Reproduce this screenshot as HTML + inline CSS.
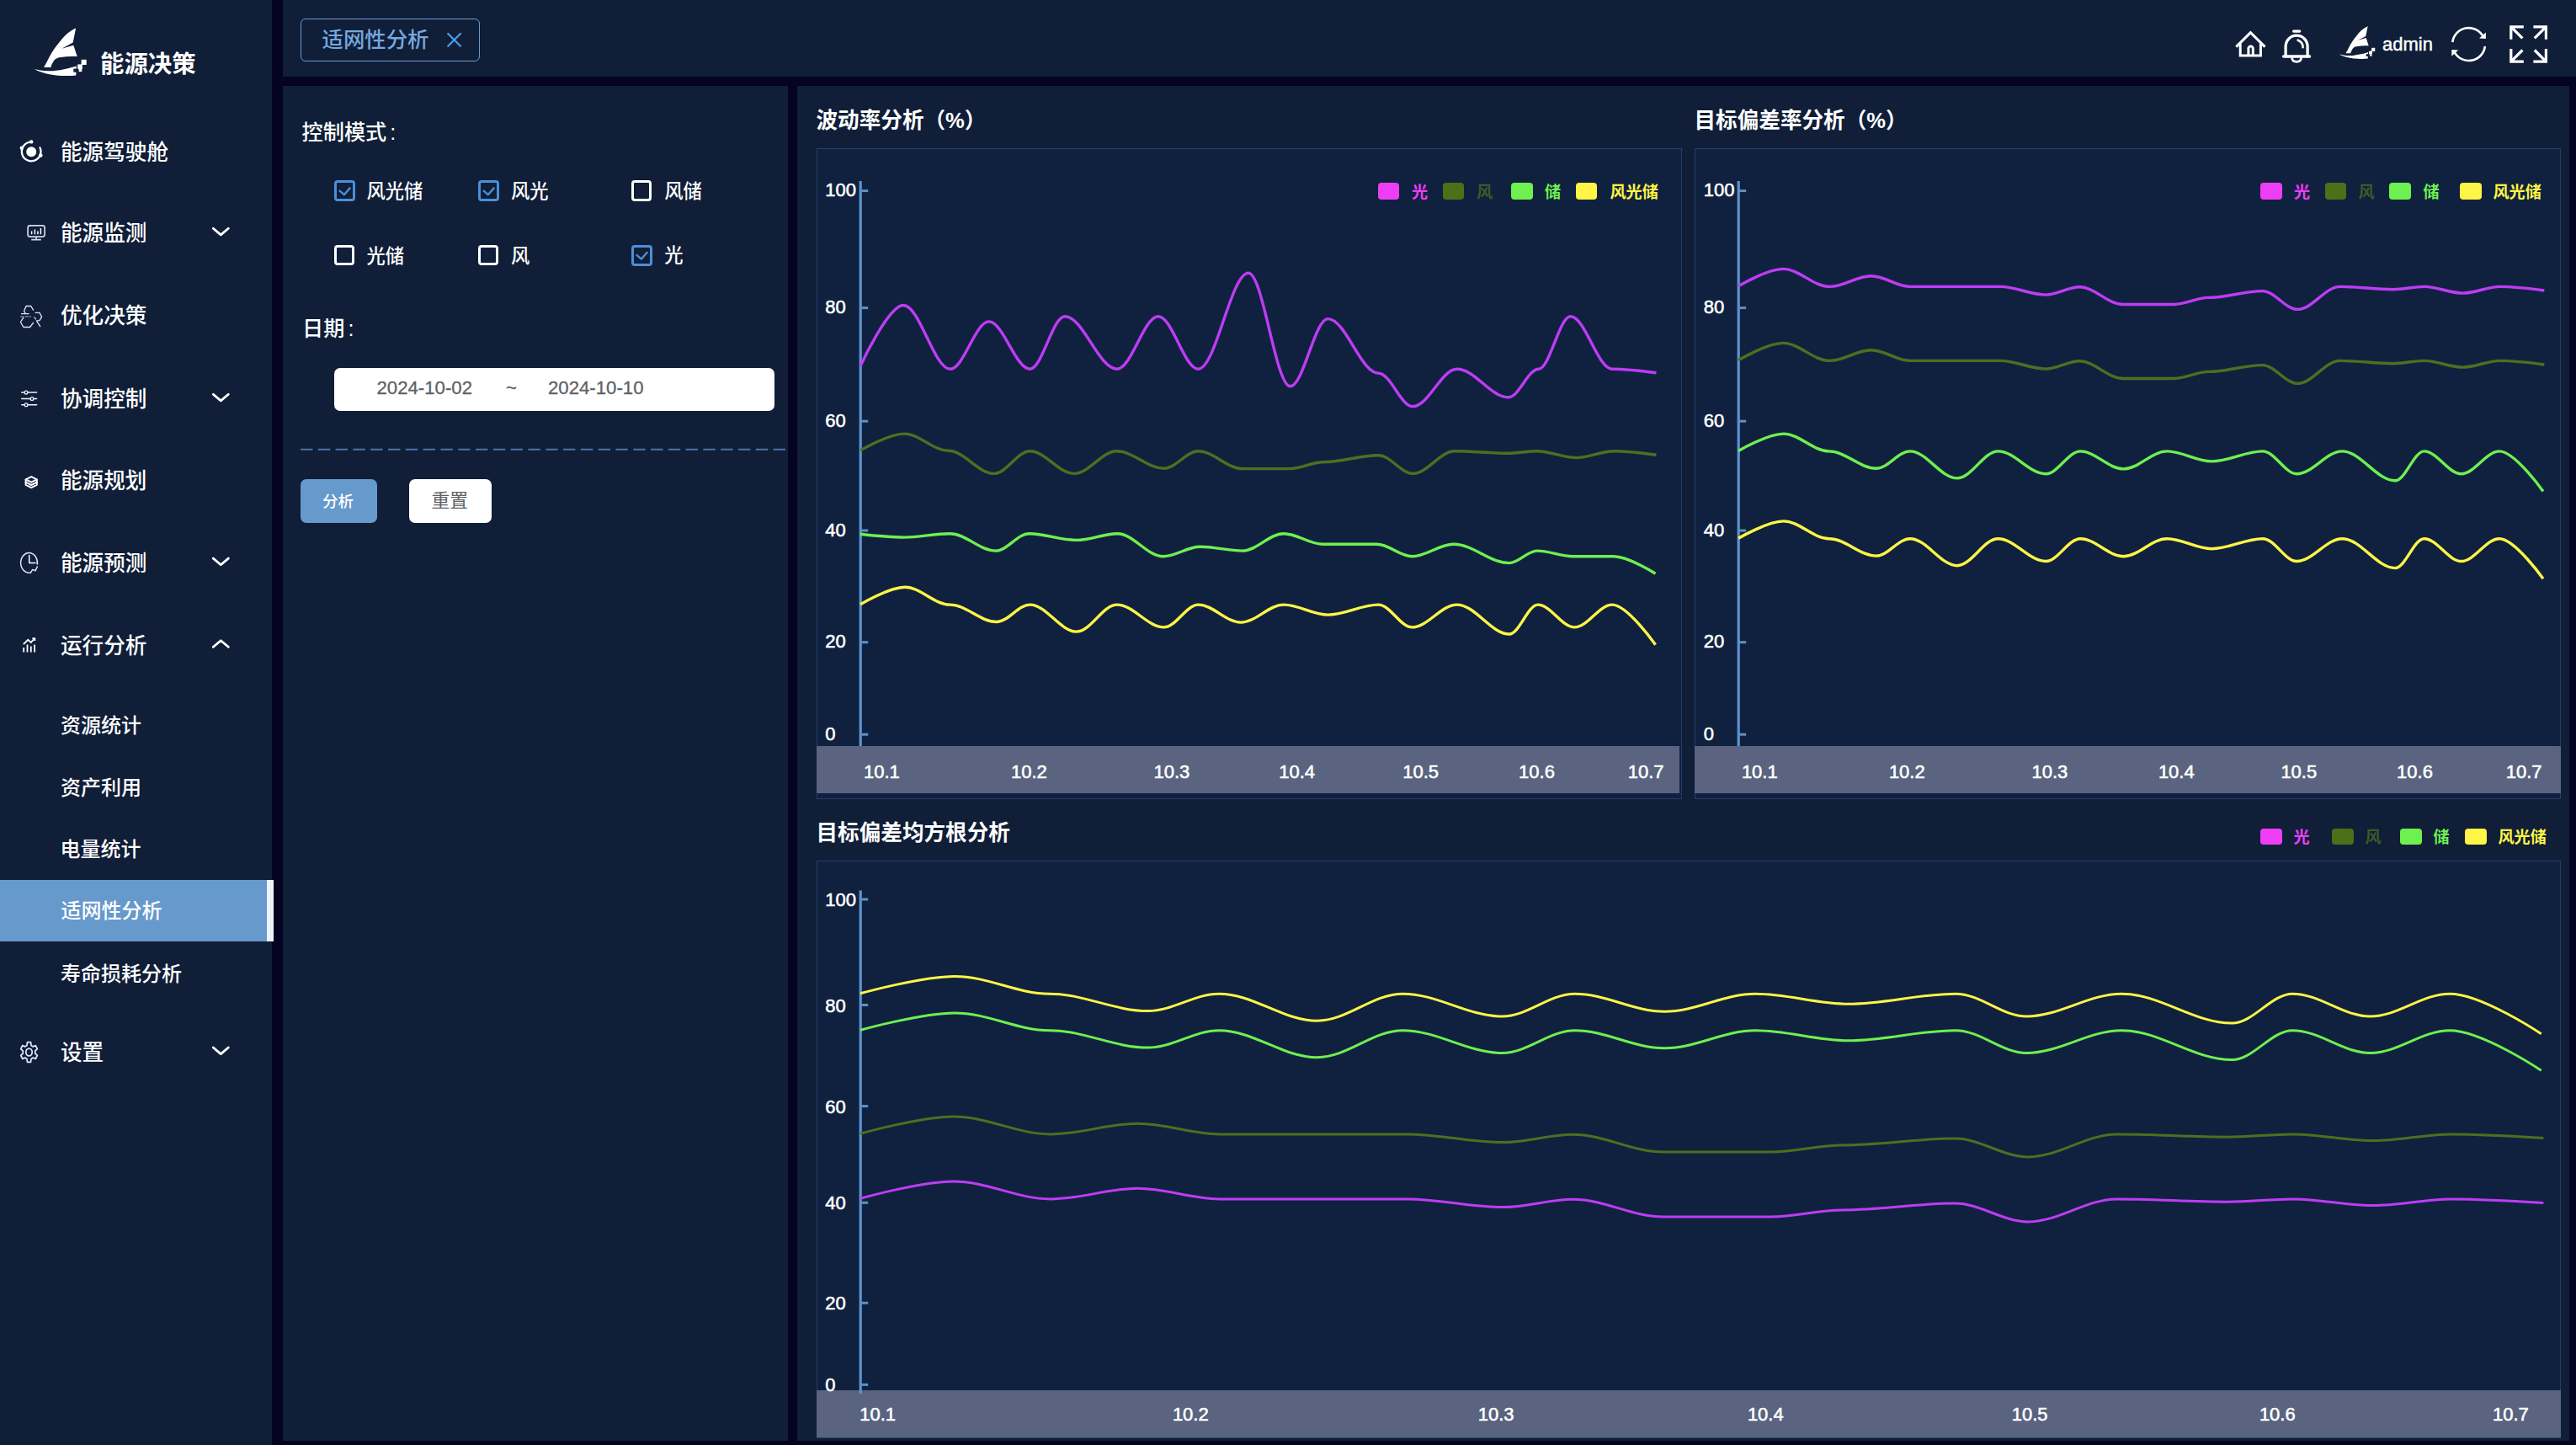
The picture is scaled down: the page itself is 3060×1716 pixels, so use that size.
<!DOCTYPE html>
<html lang="zh-CN"><head><meta charset="utf-8"><title>能源决策</title><style>
*{box-sizing:border-box;margin:0;padding:0}
html,body{width:3060px;height:1716px;overflow:hidden;background:#040422;}
body{position:relative;font-family:"Liberation Sans","Noto Sans CJK SC",sans-serif;color:#fff;}
.abs{position:absolute}
.g{position:absolute;left:0;top:0;width:0;height:0}
.panel{position:absolute;background:#101e38}
.t{position:absolute;white-space:nowrap;line-height:1;transform:translateY(-50%)}
.menu{font-size:25.6px;font-weight:500;left:72px}
.sub{font-size:24px;font-weight:500;left:72px}
.cb{position:absolute;width:25px;height:25px;border:3px solid #fff;border-radius:4px}
.cb.on{border-color:#4a90d9}
.cbl{font-size:22.3px;font-weight:500}
.chart{position:absolute;background:#10213f;border:1.3px solid #263e69}
.band{position:absolute;background:#5a6480}
.ttl{font-size:25.6px;font-weight:700}
.lg{position:absolute;width:25.5px;height:19.5px;border-radius:4px}
.lt{font-size:19.1px;font-weight:700}
svg{position:absolute;left:0;top:0;overflow:visible}
svg text{font-family:"Liberation Sans","Noto Sans CJK SC",sans-serif;stroke:#fff;stroke-width:.55px}
</style></head><body>
<aside class="g">
<div class="panel" style="left:0;top:0;width:323px;height:1716px"></div>
<div class="t" style="left:119px;top:75.5px;font-size:28.4px;font-weight:700">能源决策</div>
<div class="t menu" style="top:181.5px">能源驾驶舱</div>
<div class="t menu" style="top:278px">能源监测</div>
<div class="t menu" style="top:376.3px">优化决策</div>
<div class="t menu" style="top:475px">协调控制</div>
<div class="t menu" style="top:571.8px">能源规划</div>
<div class="t menu" style="top:669.8px">能源预测</div>
<div class="t menu" style="top:767.7px">运行分析</div>
<div class="t menu" style="top:1250.7px">设置</div>
<div class="abs" style="left:0;top:1045px;width:324.5px;height:73px;background:#6699cc;border-right:8px solid #eef2fa"></div>
<div class="t sub" style="top:861.6px;left:72px">资源统计</div>
<div class="t sub" style="top:935.5px;left:72px">资产利用</div>
<div class="t sub" style="top:1008.6px;left:71.6px">电量统计</div>
<div class="t sub" style="top:1082.4px;left:72.6px">适网性分析</div>
<div class="t sub" style="top:1157.4px;left:72px">寿命损耗分析</div>
</aside>
<header class="g">
<div class="panel" style="left:336px;top:0;width:2724px;height:91px"></div>
<div class="abs" style="left:357px;top:22px;width:212.6px;height:50.5px;border:1.5px solid #6a9bd4;border-radius:6px"></div>
<div class="t" style="left:382.5px;top:48.2px;font-size:25.4px;font-weight:500;color:#74a8de">适网性分析</div>
<div class="t" style="left:2830px;top:52.5px;font-size:22px;-webkit-text-stroke:.4px #fff">admin</div>
</header>
<section class="g">
<div class="panel" style="left:336px;top:101.7px;width:600.3px;height:1609.8px"></div>
<div class="t" style="left:358.5px;top:157.5px;font-size:25.2px;font-weight:500">控制模式<span style="margin-left:4px">:</span></div>
<div class="cb on" style="left:397px;top:214.1px;width:25px;height:25.4px"></div>
<div class="t cbl" style="left:435.5px;top:227.9px">风光储</div>
<div class="cb on" style="left:568px;top:214.1px;width:25px;height:25.4px"></div>
<div class="t cbl" style="left:607.0px;top:227.9px">风光</div>
<div class="cb" style="left:750px;top:214.4px;width:24px;height:24.3px"></div>
<div class="t cbl" style="left:789.2px;top:228.20000000000002px">风储</div>
<div class="cb" style="left:397px;top:290.8px;width:24px;height:24.3px"></div>
<div class="t cbl" style="left:435.5px;top:304.6px">光储</div>
<div class="cb" style="left:568px;top:290.8px;width:24px;height:24.3px"></div>
<div class="t cbl" style="left:607.0px;top:304.6px">风</div>
<div class="cb on" style="left:750px;top:290.5px;width:25px;height:25.4px"></div>
<div class="t cbl" style="left:789.2px;top:304.3px">光</div>
<div class="t" style="left:359px;top:391px;font-size:25.2px;font-weight:500">日期<span style="margin-left:4px">:</span></div>
<div class="abs" style="left:397px;top:436.8px;width:522.5px;height:51px;background:#fff;border-radius:7px"></div>
<div class="t" style="left:447.5px;top:461px;font-size:22.2px;color:#606266;-webkit-text-stroke:.3px #606266">2024-10-02</div>
<div class="t" style="left:601px;top:461px;font-size:22.2px;color:#606266;-webkit-text-stroke:.3px #606266">~</div>
<div class="t" style="left:651px;top:461px;font-size:22.2px;color:#606266;-webkit-text-stroke:.3px #606266">2024-10-10</div>
<div class="abs" style="left:357px;top:569.4px;width:91px;height:51.2px;background:#6699cc;border-radius:7px"></div>
<div class="t" style="left:383px;top:595.5px;font-size:18.6px;font-weight:500;color:#fff">分析</div>
<div class="abs" style="left:486.3px;top:569.4px;width:97.7px;height:51.2px;background:#fff;border-radius:7px"></div>
<div class="t" style="left:512.5px;top:595px;font-size:21.8px;color:#606266">重置</div>
</section>
<main class="g">
<div class="panel" style="left:947.4px;top:101.7px;width:2104.2px;height:1609.8px"></div>
<div class="t ttl" style="left:969.5px;top:143.5px">波动率分析（%）</div>
<div class="t ttl" style="left:2012.5px;top:143.5px">目标偏差率分析（%）</div>
<div class="t ttl" style="left:969.5px;top:990px">目标偏差均方根分析</div>
<div class="chart" style="left:970px;top:176px;width:1028px;height:773.2px"></div>
<div class="chart" style="left:2013px;top:176px;width:1029px;height:773.2px"></div>
<div class="chart" style="left:970px;top:1022px;width:2072px;height:685.6px"></div>
<div class="band" style="left:970px;top:886px;width:1025.3px;height:56px"></div>
<div class="band" style="left:2013px;top:886px;width:1028.5px;height:56px"></div>
<div class="band" style="left:970px;top:1651px;width:2071.5px;height:55.6px"></div>
<div class="lg" style="left:1636.9px;top:217.35px;background:#ee3ef5"></div>
<div class="t lt" style="left:1677px;top:229.1px;color:#ee3ef5">光</div>
<div class="lg" style="left:1713.9px;top:217.35px;background:#4b7018"></div>
<div class="t lt" style="left:1754px;top:229.1px;color:#3e5a26">风</div>
<div class="lg" style="left:1795px;top:217.35px;background:#6ef050"></div>
<div class="t lt" style="left:1835px;top:229.1px;color:#6ef050">储</div>
<div class="lg" style="left:1871.8px;top:217.35px;background:#fff546"></div>
<div class="t lt" style="left:1912.5px;top:229.1px;color:#fff546">风光储</div>
<div class="lg" style="left:2685px;top:217.35px;background:#ee3ef5"></div>
<div class="t lt" style="left:2725px;top:229.1px;color:#ee3ef5">光</div>
<div class="lg" style="left:2761.8px;top:217.35px;background:#4b7018"></div>
<div class="t lt" style="left:2801.5px;top:229.1px;color:#3e5a26">风</div>
<div class="lg" style="left:2838.2px;top:217.35px;background:#6ef050"></div>
<div class="t lt" style="left:2878.5px;top:229.1px;color:#6ef050">储</div>
<div class="lg" style="left:2922px;top:217.35px;background:#fff546"></div>
<div class="t lt" style="left:2961.5px;top:229.1px;color:#fff546">风光储</div>
<div class="lg" style="left:2685px;top:983.55px;background:#ee3ef5"></div>
<div class="t lt" style="left:2724.5px;top:995.3px;color:#ee3ef5">光</div>
<div class="lg" style="left:2770px;top:983.55px;background:#4b7018"></div>
<div class="t lt" style="left:2809.5px;top:995.3px;color:#3e5a26">风</div>
<div class="lg" style="left:2851px;top:983.55px;background:#6ef050"></div>
<div class="t lt" style="left:2890.5px;top:995.3px;color:#6ef050">储</div>
<div class="lg" style="left:2928px;top:983.55px;background:#fff546"></div>
<div class="t lt" style="left:2967.5px;top:995.3px;color:#fff546">风光储</div>
</main>
<svg width="3060" height="1716" viewBox="0 0 3060 1716">
<rect x="1020.6" y="215" width="3.2" height="671" fill="#5c94cf"/>
<rect x="1022.2" y="225.1" width="9" height="3" fill="#5f90c4"/>
<rect x="1022.2" y="364.1" width="9" height="3" fill="#5f90c4"/>
<rect x="1022.2" y="498.7" width="9" height="3" fill="#5f90c4"/>
<rect x="1022.2" y="628.5" width="9" height="3" fill="#5f90c4"/>
<rect x="1022.2" y="761.2" width="9" height="3" fill="#5f90c4"/>
<rect x="1022.2" y="870.7" width="9" height="3" fill="#5f90c4"/>
<text x="980.2" y="233.2" font-size="22" fill="#fff">100</text>
<text x="980.2" y="372.20000000000005" font-size="22" fill="#fff">80</text>
<text x="980.2" y="506.8" font-size="22" fill="#fff">60</text>
<text x="980.2" y="636.6" font-size="22" fill="#fff">40</text>
<text x="980.2" y="769.3000000000001" font-size="22" fill="#fff">20</text>
<text x="980.2" y="878.8000000000001" font-size="22" fill="#fff">0</text>
<rect x="2063.6" y="215" width="3.2" height="671" fill="#5c94cf"/>
<rect x="2065.2" y="225.1" width="9" height="3" fill="#5f90c4"/>
<rect x="2065.2" y="364.1" width="9" height="3" fill="#5f90c4"/>
<rect x="2065.2" y="498.7" width="9" height="3" fill="#5f90c4"/>
<rect x="2065.2" y="628.5" width="9" height="3" fill="#5f90c4"/>
<rect x="2065.2" y="761.2" width="9" height="3" fill="#5f90c4"/>
<rect x="2065.2" y="870.7" width="9" height="3" fill="#5f90c4"/>
<text x="2023.7" y="233.2" font-size="22" fill="#fff">100</text>
<text x="2023.7" y="372.20000000000005" font-size="22" fill="#fff">80</text>
<text x="2023.7" y="506.8" font-size="22" fill="#fff">60</text>
<text x="2023.7" y="636.6" font-size="22" fill="#fff">40</text>
<text x="2023.7" y="769.3000000000001" font-size="22" fill="#fff">20</text>
<text x="2023.7" y="878.8000000000001" font-size="22" fill="#fff">0</text>
<rect x="1020.6" y="1057.4" width="3.2" height="597.5999999999999" fill="#5c94cf"/>
<rect x="1022.2" y="1066.5" width="9" height="3" fill="#5f90c4"/>
<rect x="1022.2" y="1192.0" width="9" height="3" fill="#5f90c4"/>
<rect x="1022.2" y="1312.1" width="9" height="3" fill="#5f90c4"/>
<rect x="1022.2" y="1426.8" width="9" height="3" fill="#5f90c4"/>
<rect x="1022.2" y="1545.8" width="9" height="3" fill="#5f90c4"/>
<rect x="1022.2" y="1642.9" width="9" height="3" fill="#5f90c4"/>
<text x="980.2" y="1076.0" font-size="22" fill="#fff">100</text>
<text x="980.2" y="1201.5" font-size="22" fill="#fff">80</text>
<text x="980.2" y="1321.6" font-size="22" fill="#fff">60</text>
<text x="980.2" y="1436.3" font-size="22" fill="#fff">40</text>
<text x="980.2" y="1555.3" font-size="22" fill="#fff">20</text>
<text x="980.2" y="1652.4" font-size="22" fill="#fff">0</text>
<text x="1047.4" y="924.1999999999999" font-size="22" fill="#fff" text-anchor="middle">10.1</text>
<text x="1222.4" y="924.1999999999999" font-size="22" fill="#fff" text-anchor="middle">10.2</text>
<text x="1391.9" y="924.1999999999999" font-size="22" fill="#fff" text-anchor="middle">10.3</text>
<text x="1540.7" y="924.1999999999999" font-size="22" fill="#fff" text-anchor="middle">10.4</text>
<text x="1687.6" y="924.1999999999999" font-size="22" fill="#fff" text-anchor="middle">10.5</text>
<text x="1825.5" y="924.1999999999999" font-size="22" fill="#fff" text-anchor="middle">10.6</text>
<text x="1955.1" y="924.1999999999999" font-size="22" fill="#fff" text-anchor="middle">10.7</text>
<text x="2090.3" y="924.1999999999999" font-size="22" fill="#fff" text-anchor="middle">10.1</text>
<text x="2265.3" y="924.1999999999999" font-size="22" fill="#fff" text-anchor="middle">10.2</text>
<text x="2434.9" y="924.1999999999999" font-size="22" fill="#fff" text-anchor="middle">10.3</text>
<text x="2585.3" y="924.1999999999999" font-size="22" fill="#fff" text-anchor="middle">10.4</text>
<text x="2730.8" y="924.1999999999999" font-size="22" fill="#fff" text-anchor="middle">10.5</text>
<text x="2868.5" y="924.1999999999999" font-size="22" fill="#fff" text-anchor="middle">10.6</text>
<text x="2998.1" y="924.1999999999999" font-size="22" fill="#fff" text-anchor="middle">10.7</text>
<text x="1042.7" y="1687.0" font-size="22" fill="#fff" text-anchor="middle">10.1</text>
<text x="1414.3" y="1687.0" font-size="22" fill="#fff" text-anchor="middle">10.2</text>
<text x="1777.2" y="1687.0" font-size="22" fill="#fff" text-anchor="middle">10.3</text>
<text x="2097.3" y="1687.0" font-size="22" fill="#fff" text-anchor="middle">10.4</text>
<text x="2411.2" y="1687.0" font-size="22" fill="#fff" text-anchor="middle">10.5</text>
<text x="2705.3" y="1687.0" font-size="22" fill="#fff" text-anchor="middle">10.6</text>
<text x="2982.4" y="1687.0" font-size="22" fill="#fff" text-anchor="middle">10.7</text>
<path d="M1022.0,534.9C1022.0,534.9 1055.8,515.1 1074.0,515.1C1092.4,515.1 1108.1,535.2 1126.5,535.2C1145.5,535.2 1161.8,562.4 1180.8,562.4C1195.7,562.4 1208.6,535.8 1223.5,535.8C1241.8,535.8 1257.6,562.4 1275.9,562.4C1293.6,562.4 1308.7,535.8 1326.4,535.8C1346.1,535.8 1363.0,556.2 1382.7,556.2C1396.9,556.2 1409.2,535.8 1423.4,535.8C1441.7,535.8 1457.5,556.6 1475.8,556.6C1495.7,556.6 1512.8,556.6 1532.7,556.6C1546.3,556.6 1557.9,548.8 1571.5,548.8C1594.6,548.8 1614.4,540.7 1637.5,540.7C1651.8,540.7 1664.0,562.4 1678.3,562.4C1695.6,562.4 1710.5,535.8 1727.8,535.8C1749.9,535.8 1768.8,538.3 1790.9,538.3C1803.1,538.3 1813.6,535.8 1825.8,535.8C1842.1,535.8 1856.1,543.6 1872.4,543.6C1888.0,543.6 1901.4,535.8 1917.0,535.8C1934.7,535.8 1967.5,540.3 1967.5,540.3" fill="none" stroke="#4c7020" stroke-width="3.4" stroke-linecap="butt" stroke-linejoin="round"/>
<path d="M1022.0,634.3C1022.0,634.3 1055.8,638.1 1074.0,638.1C1093.0,638.1 1109.4,633.7 1128.4,633.7C1147.4,633.7 1163.7,654.1 1182.7,654.1C1196.6,654.1 1208.6,633.7 1222.5,633.7C1242.2,633.7 1259.1,641.4 1278.8,641.4C1295.8,641.4 1310.4,633.7 1327.4,633.7C1346.4,633.7 1362.7,660.8 1381.7,660.8C1397.0,660.8 1410.1,649.2 1425.4,649.2C1443.0,649.2 1458.2,654.1 1475.8,654.1C1493.0,654.1 1507.7,633.7 1524.9,633.7C1541.2,633.7 1555.2,646.3 1571.5,646.3C1593.9,646.3 1613.2,646.3 1635.6,646.3C1650.2,646.3 1662.7,660.8 1677.3,660.8C1694.6,660.8 1709.5,646.3 1726.8,646.3C1749.9,646.3 1769.7,668.6 1792.8,668.6C1804.3,668.6 1814.2,654.1 1825.8,654.1C1840.7,654.1 1853.6,660.8 1868.5,660.8C1885.5,660.8 1900.0,660.8 1917.0,660.8C1934.3,660.8 1966.5,681.2 1966.5,681.2" fill="none" stroke="#6ef050" stroke-width="3.4" stroke-linecap="butt" stroke-linejoin="round"/>
<path d="M1022.0,717.7C1022.0,717.7 1056.5,697.3 1075.0,697.3C1093.7,697.3 1109.7,718.1 1128.4,718.1C1147.8,718.1 1164.3,738.5 1183.7,738.5C1197.6,738.5 1209.6,718.1 1223.5,718.1C1242.9,718.1 1259.4,750.1 1278.8,750.1C1295.6,750.1 1310.0,718.1 1326.8,718.1C1346.4,718.1 1363.1,744.9 1382.7,744.9C1396.9,744.9 1409.2,718.1 1423.4,718.1C1441.1,718.1 1456.2,739.1 1473.9,739.1C1491.8,739.1 1507.1,718.1 1524.9,718.1C1543.2,718.1 1559.0,730.1 1577.3,730.1C1598.4,730.1 1616.4,718.1 1637.5,718.1C1651.4,718.1 1663.4,744.9 1677.3,744.9C1696.0,744.9 1712.0,718.1 1730.7,718.1C1752.4,718.1 1771.1,753.0 1792.8,753.0C1804.7,753.0 1814.9,718.1 1826.8,718.1C1842.1,718.1 1855.1,744.9 1870.4,744.9C1886.0,744.9 1899.5,718.1 1915.1,718.1C1933.1,718.1 1966.5,765.7 1966.5,765.7" fill="none" stroke="#fff546" stroke-width="3.4" stroke-linecap="butt" stroke-linejoin="round"/>
<path d="M1022.0,434.9C1022.0,434.9 1055.2,362.5 1073.1,362.5C1092.6,362.5 1109.3,438.2 1128.8,438.2C1144.8,438.2 1158.6,381.9 1174.6,381.9C1191.7,381.9 1206.4,438.2 1223.5,438.2C1238.0,438.2 1250.4,375.7 1264.9,375.7C1286.6,375.7 1305.1,438.2 1326.8,438.2C1344.0,438.2 1358.7,375.7 1375.9,375.7C1392.5,375.7 1406.8,438.2 1423.4,438.2C1444.3,438.2 1462.1,324.3 1483.0,324.3C1500.4,324.3 1515.3,458.8 1532.7,458.8C1548.3,458.8 1561.7,378.6 1577.3,378.6C1598.4,378.6 1616.4,443.2 1637.5,443.2C1651.8,443.2 1664.0,482.8 1678.3,482.8C1696.6,482.8 1712.4,438.2 1730.7,438.2C1752.1,438.2 1770.4,471.8 1791.8,471.8C1804.4,471.8 1815.1,438.2 1827.7,438.2C1841.0,438.2 1852.3,375.7 1865.6,375.7C1882.9,375.7 1897.8,438.2 1915.1,438.2C1933.4,438.2 1967.5,442.7 1967.5,442.7" fill="none" stroke="#be3cf5" stroke-width="3.4" stroke-linecap="butt" stroke-linejoin="round"/>
<path d="M2065.0,339.8C2065.0,339.8 2099.4,319.4 2117.9,319.4C2137.3,319.4 2153.9,340.4 2173.3,340.4C2190.6,340.4 2205.4,327.8 2222.7,327.8C2239.0,327.8 2253.0,340.4 2269.3,340.4C2288.3,340.4 2304.7,340.4 2323.7,340.4C2342.0,340.4 2357.8,340.4 2376.1,340.4C2395.1,340.4 2411.4,350.1 2430.4,350.1C2444.3,350.1 2456.3,340.8 2470.2,340.8C2488.2,340.8 2503.7,361.5 2521.7,361.5C2543.0,361.5 2561.3,361.5 2582.7,361.5C2597.0,361.5 2609.2,353.4 2623.5,353.4C2645.9,353.4 2665.1,345.6 2687.5,345.6C2702.1,345.6 2714.6,367.4 2729.2,367.4C2746.9,367.4 2762.0,340.4 2779.7,340.4C2801.8,340.4 2820.7,343.7 2842.8,343.7C2855.7,343.7 2866.8,340.4 2879.7,340.4C2895.7,340.4 2909.3,348.1 2925.3,348.1C2940.9,348.1 2954.3,340.4 2969.9,340.4C2988.2,340.4 3022.3,345.0 3022.3,345.0" fill="none" stroke="#be3cf5" stroke-width="3.4" stroke-linecap="butt" stroke-linejoin="round"/>
<path d="M2065.0,427.8C2065.0,427.8 2099.4,407.4 2117.9,407.4C2137.3,407.4 2153.9,428.4 2173.3,428.4C2190.6,428.4 2205.4,415.8 2222.7,415.8C2239.0,415.8 2253.0,428.4 2269.3,428.4C2288.3,428.4 2304.7,428.4 2323.7,428.4C2342.0,428.4 2357.8,428.4 2376.1,428.4C2395.1,428.4 2411.4,438.1 2430.4,438.1C2444.3,438.1 2456.3,428.8 2470.2,428.8C2488.2,428.8 2503.7,449.5 2521.7,449.5C2543.0,449.5 2561.3,449.5 2582.7,449.5C2597.0,449.5 2609.2,441.4 2623.5,441.4C2645.9,441.4 2665.1,433.6 2687.5,433.6C2702.1,433.6 2714.6,455.4 2729.2,455.4C2746.9,455.4 2762.0,428.4 2779.7,428.4C2801.8,428.4 2820.7,431.7 2842.8,431.7C2855.7,431.7 2866.8,428.4 2879.7,428.4C2895.7,428.4 2909.3,436.1 2925.3,436.1C2940.9,436.1 2954.3,428.4 2969.9,428.4C2988.2,428.4 3022.3,433.0 3022.3,433.0" fill="none" stroke="#4c7020" stroke-width="3.4" stroke-linecap="butt" stroke-linejoin="round"/>
<path d="M2065.0,535.5C2065.0,535.5 2099.9,515.1 2118.6,515.1C2137.6,515.1 2153.8,535.9 2172.7,535.9C2192.3,535.9 2209.1,556.3 2228.7,556.3C2242.8,556.3 2254.9,535.9 2269.0,535.9C2288.5,535.9 2305.3,567.9 2324.9,567.9C2341.9,567.9 2356.5,535.9 2373.5,535.9C2393.3,535.9 2410.3,562.7 2430.1,562.7C2444.5,562.7 2456.9,535.9 2471.3,535.9C2489.2,535.9 2504.5,556.9 2522.4,556.9C2540.5,556.9 2555.9,535.9 2574.0,535.9C2592.6,535.9 2608.5,547.9 2627.1,547.9C2648.4,547.9 2666.7,535.9 2688.0,535.9C2702.1,535.9 2714.2,562.7 2728.3,562.7C2747.2,562.7 2763.4,535.9 2782.3,535.9C2804.3,535.9 2823.2,570.8 2845.2,570.8C2857.2,570.8 2867.5,535.9 2879.6,535.9C2895.0,535.9 2908.3,562.7 2923.7,562.7C2939.6,562.7 2953.1,535.9 2969.0,535.9C2987.2,535.9 3021.0,583.5 3021.0,583.5" fill="none" stroke="#6ef050" stroke-width="3.4" stroke-linecap="butt" stroke-linejoin="round"/>
<path d="M2065.0,639.3C2065.0,639.3 2099.9,618.9 2118.6,618.9C2137.6,618.9 2153.8,639.7 2172.7,639.7C2192.3,639.7 2209.1,660.1 2228.7,660.1C2242.8,660.1 2254.9,639.7 2269.0,639.7C2288.5,639.7 2305.3,671.7 2324.9,671.7C2341.9,671.7 2356.5,639.7 2373.5,639.7C2393.3,639.7 2410.3,666.5 2430.1,666.5C2444.5,666.5 2456.9,639.7 2471.3,639.7C2489.2,639.7 2504.5,660.7 2522.4,660.7C2540.5,660.7 2555.9,639.7 2574.0,639.7C2592.6,639.7 2608.5,651.7 2627.1,651.7C2648.4,651.7 2666.7,639.7 2688.0,639.7C2702.1,639.7 2714.2,666.5 2728.3,666.5C2747.2,666.5 2763.4,639.7 2782.3,639.7C2804.3,639.7 2823.2,674.6 2845.2,674.6C2857.2,674.6 2867.5,639.7 2879.6,639.7C2895.0,639.7 2908.3,666.5 2923.7,666.5C2939.6,666.5 2953.1,639.7 2969.0,639.7C2987.2,639.7 3021.0,687.3 3021.0,687.3" fill="none" stroke="#fff546" stroke-width="3.4" stroke-linecap="butt" stroke-linejoin="round"/>
<path d="M1022.0,1179.8C1022.0,1179.8 1094.8,1159.4 1134.0,1159.4C1173.6,1159.4 1207.4,1180.2 1246.9,1180.2C1287.8,1180.2 1322.9,1200.6 1363.8,1200.6C1393.3,1200.6 1418.5,1180.2 1448.0,1180.2C1488.9,1180.2 1524.0,1212.2 1564.9,1212.2C1600.4,1212.2 1630.8,1180.2 1666.3,1180.2C1707.7,1180.2 1743.2,1207.0 1784.5,1207.0C1814.6,1207.0 1840.4,1180.2 1870.6,1180.2C1907.9,1180.2 1940.0,1201.2 1977.3,1201.2C2015.1,1201.2 2047.4,1180.2 2085.1,1180.2C2123.9,1180.2 2157.1,1192.2 2195.9,1192.2C2240.4,1192.2 2278.6,1180.2 2323.2,1180.2C2352.6,1180.2 2377.9,1207.0 2407.3,1207.0C2446.8,1207.0 2480.7,1180.2 2520.2,1180.2C2566.1,1180.2 2605.5,1215.1 2651.5,1215.1C2676.6,1215.1 2698.2,1180.2 2723.3,1180.2C2755.6,1180.2 2783.3,1207.0 2815.5,1207.0C2848.6,1207.0 2876.9,1180.2 2910.0,1180.2C2948.0,1180.2 3018.7,1227.8 3018.7,1227.8" fill="none" stroke="#fff546" stroke-width="3.0" stroke-linecap="butt" stroke-linejoin="round"/>
<path d="M1022.0,1223.3C1022.0,1223.3 1094.8,1202.9 1134.0,1202.9C1173.6,1202.9 1207.4,1223.7 1246.9,1223.7C1287.8,1223.7 1322.9,1244.1 1363.8,1244.1C1393.3,1244.1 1418.5,1223.7 1448.0,1223.7C1488.9,1223.7 1524.0,1255.7 1564.9,1255.7C1600.4,1255.7 1630.8,1223.7 1666.3,1223.7C1707.7,1223.7 1743.2,1250.5 1784.5,1250.5C1814.6,1250.5 1840.4,1223.7 1870.6,1223.7C1907.9,1223.7 1940.0,1244.7 1977.3,1244.7C2015.1,1244.7 2047.4,1223.7 2085.1,1223.7C2123.9,1223.7 2157.1,1235.7 2195.9,1235.7C2240.4,1235.7 2278.6,1223.7 2323.2,1223.7C2352.6,1223.7 2377.9,1250.5 2407.3,1250.5C2446.8,1250.5 2480.7,1223.7 2520.2,1223.7C2566.1,1223.7 2605.5,1258.6 2651.5,1258.6C2676.6,1258.6 2698.2,1223.7 2723.3,1223.7C2755.6,1223.7 2783.3,1250.5 2815.5,1250.5C2848.6,1250.5 2876.9,1223.7 2910.0,1223.7C2948.0,1223.7 3018.7,1271.3 3018.7,1271.3" fill="none" stroke="#6ef050" stroke-width="3.0" stroke-linecap="butt" stroke-linejoin="round"/>
<path d="M1022.0,1346.3C1022.0,1346.3 1093.8,1325.9 1132.5,1325.9C1173.0,1325.9 1207.7,1346.9 1248.2,1346.9C1284.3,1346.9 1315.3,1334.3 1351.4,1334.3C1385.4,1334.3 1414.6,1346.9 1448.7,1346.9C1488.5,1346.9 1522.6,1346.9 1562.3,1346.9C1600.6,1346.9 1633.5,1346.9 1671.8,1346.9C1711.5,1346.9 1745.5,1356.6 1785.2,1356.6C1814.3,1356.6 1839.2,1347.3 1868.3,1347.3C1905.9,1347.3 1938.2,1368.0 1975.9,1368.0C2020.5,1368.0 2058.7,1368.0 2103.3,1368.0C2133.1,1368.0 2158.7,1359.9 2188.5,1359.9C2235.3,1359.9 2275.4,1352.1 2322.2,1352.1C2352.6,1352.1 2378.8,1373.9 2409.2,1373.9C2446.2,1373.9 2477.8,1346.9 2514.7,1346.9C2560.9,1346.9 2600.4,1350.2 2646.5,1350.2C2673.5,1350.2 2696.6,1346.9 2723.6,1346.9C2756.9,1346.9 2785.5,1354.6 2818.8,1354.6C2851.4,1354.6 2879.4,1346.9 2912.0,1346.9C2950.3,1346.9 3021.4,1351.5 3021.4,1351.5" fill="none" stroke="#4c7020" stroke-width="3.0" stroke-linecap="butt" stroke-linejoin="round"/>
<path d="M1022.0,1423.3C1022.0,1423.3 1093.8,1402.9 1132.5,1402.9C1173.0,1402.9 1207.7,1423.9 1248.2,1423.9C1284.3,1423.9 1315.3,1411.3 1351.4,1411.3C1385.4,1411.3 1414.6,1423.9 1448.7,1423.9C1488.5,1423.9 1522.6,1423.9 1562.3,1423.9C1600.6,1423.9 1633.5,1423.9 1671.8,1423.9C1711.5,1423.9 1745.5,1433.6 1785.2,1433.6C1814.3,1433.6 1839.2,1424.3 1868.3,1424.3C1905.9,1424.3 1938.2,1445.0 1975.9,1445.0C2020.5,1445.0 2058.7,1445.0 2103.3,1445.0C2133.1,1445.0 2158.7,1436.9 2188.5,1436.9C2235.3,1436.9 2275.4,1429.1 2322.2,1429.1C2352.6,1429.1 2378.8,1450.9 2409.2,1450.9C2446.2,1450.9 2477.8,1423.9 2514.7,1423.9C2560.9,1423.9 2600.4,1427.2 2646.5,1427.2C2673.5,1427.2 2696.6,1423.9 2723.6,1423.9C2756.9,1423.9 2785.5,1431.6 2818.8,1431.6C2851.4,1431.6 2879.4,1423.9 2912.0,1423.9C2950.3,1423.9 3021.4,1428.5 3021.4,1428.5" fill="none" stroke="#be3cf5" stroke-width="3.0" stroke-linecap="butt" stroke-linejoin="round"/>
<g transform="translate(0,0) scale(1.0)" fill="#fff"><path d="M90.1,33.6 C84,36 77,42 72.2,48 C68.5,52.5 66,55.8 63.8,59.1 C61,63.5 59,66.8 57.3,70.3 C55.2,74.5 53.5,77.5 52.1,80.1 L60.5,80.1 C60.8,78 61.4,76.5 62.4,75 C63.2,73.2 64.2,71.6 65.7,70.3 C67.5,69 69.5,68.4 72.2,68 C76.5,67.4 81,67.2 85.2,67.1 L91.7,66.9 L87.3,53.7 L73.3,57.7 L86.7,50.6 Z"/><path d="M40.7,82 C43,82.6 45.5,83 48,83.4 C51,83.9 54,84.2 57.3,84.3 C60.5,84.4 63.5,84.2 66.6,83.8 C69.8,83.4 72.8,82.9 75.9,82.2 C79,81.6 82,80.9 85.2,80.1 L90.8,78.5 L90.3,89.4 C87,89.9 84,90.1 80.6,90.1 C75.8,90.2 71,90 66.6,89.5 C63.3,89.1 60.3,88.6 57.3,88 C54,87.3 51,86.3 48,85.2 C45.2,84.2 42.8,83.2 40.7,82 Z"/><rect x="96.6" y="70.8" width="6.1" height="6.2"/><rect x="92.2" y="76.4" width="5.6" height="5.6"/><rect x="93.6" y="82" width="3.7" height="3.2"/><rect x="87.3" y="81.6" width="4.9" height="4.1" fill="#101e38"/></g>
<g transform="translate(2750.9,8.3) scale(0.685)" fill="#fff"><path d="M90.1,33.6 C84,36 77,42 72.2,48 C68.5,52.5 66,55.8 63.8,59.1 C61,63.5 59,66.8 57.3,70.3 C55.2,74.5 53.5,77.5 52.1,80.1 L60.5,80.1 C60.8,78 61.4,76.5 62.4,75 C63.2,73.2 64.2,71.6 65.7,70.3 C67.5,69 69.5,68.4 72.2,68 C76.5,67.4 81,67.2 85.2,67.1 L91.7,66.9 L87.3,53.7 L73.3,57.7 L86.7,50.6 Z"/><path d="M40.7,82 C43,82.6 45.5,83 48,83.4 C51,83.9 54,84.2 57.3,84.3 C60.5,84.4 63.5,84.2 66.6,83.8 C69.8,83.4 72.8,82.9 75.9,82.2 C79,81.6 82,80.9 85.2,80.1 L90.8,78.5 L90.3,89.4 C87,89.9 84,90.1 80.6,90.1 C75.8,90.2 71,90 66.6,89.5 C63.3,89.1 60.3,88.6 57.3,88 C54,87.3 51,86.3 48,85.2 C45.2,84.2 42.8,83.2 40.7,82 Z"/><rect x="96.6" y="70.8" width="6.1" height="6.2"/><rect x="92.2" y="76.4" width="5.6" height="5.6"/><rect x="93.6" y="82" width="3.7" height="3.2"/><rect x="87.3" y="81.6" width="4.9" height="4.1" fill="#101e38"/></g>
<polyline points="253.3,271.3 262.3,278.9 271.3,271.3" fill="none" stroke="#fff" stroke-width="2.8" stroke-linecap="round" stroke-linejoin="round"/>
<polyline points="253.3,468.3 262.3,475.9 271.3,468.3" fill="none" stroke="#fff" stroke-width="2.8" stroke-linecap="round" stroke-linejoin="round"/>
<polyline points="253.3,663.0999999999999 262.3,670.6999999999999 271.3,663.0999999999999" fill="none" stroke="#fff" stroke-width="2.8" stroke-linecap="round" stroke-linejoin="round"/>
<polyline points="253.3,768.3000000000001 262.3,760.7 271.3,768.3000000000001" fill="none" stroke="#fff" stroke-width="2.8" stroke-linecap="round" stroke-linejoin="round"/>
<polyline points="253.3,1244.0 262.3,1251.6000000000001 271.3,1244.0" fill="none" stroke="#fff" stroke-width="2.8" stroke-linecap="round" stroke-linejoin="round"/>
<path d="M47.5,175.4 A11.3,11.3 0 1 1 37.6,168.7" fill="none" stroke="#fff" stroke-width="2.3" stroke-linecap="round"/><circle cx="37.2" cy="180.3" r="6" fill="#fff"/><circle cx="37.2" cy="168.4" r="2.2" fill="#fff"/><circle cx="25.8" cy="175.8" r="2.2" fill="#fff"/><circle cx="48.3" cy="184.6" r="2.3" fill="#fff"/>
<rect x="33.1" y="267.8" width="20" height="13.4" rx="2.6" fill="none" stroke="#cfdaee" stroke-width="1.7"/><path d="M43,281.4 V284.5 M37.2,284.6 H48.8" fill="none" stroke="#cfdaee" stroke-width="1.7"/><path d="M37.6,274.4 V278.3 M41.4,272.5 V278.3 M44.9,274.4 V278.3 M48.4,270.9 V278.3" fill="none" stroke="#fff" stroke-width="1.5"/>
<g fill="none" stroke="#dfe7f7" stroke-width="1.3" stroke-linecap="round" stroke-linejoin="round"><path d="M39.5,368.1 L36.8,363.5 L31,363.5 L28.6,369.3 L30.2,372.4"/><path d="M25.5,372.6 H34.1"/><path d="M27.9,376.9 L24.4,382.5 L27.9,388.5 L35.6,388.5 L39.5,383.3"/><path d="M42.2,371.4 L46.9,371.4 L49.6,376.3 L46.9,380.7 L43.4,380.9 L47.7,387.7"/><path d="M24.6,375.9 H27.5 M30.2,375.9 H33.3 M35.2,375.9 H36.4" stroke-opacity="0.6"/><path d="M40.7,376.7 L42.6,379" stroke-opacity="0.8"/></g>
<g fill="none" stroke="#eef2fb" stroke-width="1.5" stroke-linecap="round"><path d="M25.7,466.1 H28.9 M33.1,466.1 H43.6"/><circle cx="31" cy="466.1" r="1.9" stroke-width="1.3"/><path d="M25.7,473.5 H35.9 M40.1,473.5 H43.6"/><circle cx="38" cy="473.5" r="1.9" stroke-width="1.3"/><path d="M25.7,480.7 H28.9 M33.1,480.7 H43.6"/><circle cx="31" cy="480.7" r="1.9" stroke-width="1.3"/></g>
<g fill="none" stroke="#fff" stroke-width="2" stroke-linejoin="round" stroke-linecap="round"><path d="M37.2,566.1 L43.8,569.4 L37.2,572.7 L30.6,569.4 Z"/><path d="M30.6,569.4 V575.8 L37.2,579.2 L43.8,575.8 V569.4"/><path d="M30.6,572.6 L37.2,576 L43.8,572.6"/></g>
<g fill="none" stroke="#dfe7f7" stroke-width="1.5" stroke-linecap="round" stroke-linejoin="round"><path d="M44.3,670.0 A9.9,11.9 0 1 0 35.2,680.2"/><path d="M36.2,680.4 L38.7,676.4 L41.9,677.8 L44.3,673"/><path d="M34.7,659.6 V668.5 H42" stroke="#fff"/></g>
<g fill="none" stroke="#fff" stroke-width="1.8" stroke-linecap="butt" stroke-linejoin="miter"><path d="M28.2,769 V774.6 M32.5,765.4 V774.6 M36.8,767.6 V774.6 M41.1,765.4 V774.6"/><path d="M27.8,765 L33.3,759.8 L36.8,762.9 L41,758.4"/><path d="M38.4,758.1 H41.3 V761"/></g>
<path d="M32.0,1241.4 L32.5,1237.7 L36.5,1237.7 L37.0,1241.4 L39.3,1242.9 L42.3,1241.6 L44.3,1245.6 L41.8,1248.0 L41.8,1251.0 L44.3,1253.4 L42.3,1257.4 L39.3,1256.1 L37.0,1257.6 L36.5,1261.3 L32.5,1261.3 L32.0,1257.6 L29.7,1256.1 L26.7,1257.4 L24.7,1253.4 L27.2,1251.0 L27.2,1248.0 L24.7,1245.6 L26.7,1241.6 L29.7,1242.9 Z" fill="none" stroke="#dbe4f6" stroke-width="1.8" stroke-linejoin="round"/><ellipse cx="34.5" cy="1249.5" rx="3.7" ry="4.4" fill="none" stroke="#dbe4f6" stroke-width="1.8"/>
<g fill="none" stroke="#fff" stroke-width="3" stroke-linejoin="miter" stroke-linecap="butt"><path d="M2656.3,55.6 L2673.4,38.6 L2690.5,55.6"/><path d="M2661.2,51.5 V65.9 H2685.4 V51.5"/><path d="M2670.9,65.9 V57.6 A2.7,2.7 0 0 1 2676.3,57.6 V65.9"  stroke-width="3"/></g>
<g fill="none" stroke="#fff" stroke-width="3.3" stroke-linecap="round" stroke-linejoin="round"><path d="M2724.6,37.1 H2731.7"/><path d="M2715.1,66.8 V55.2 A13,13 0 0 1 2741.1,55.2 V66.8"/><path d="M2712.6,67 H2743.6"/><path d="M2722.6,69.3 A5.6,5 0 0 0 2733.6,69.3" stroke-width="2.8"/><path d="M2729.6,47.7 A9,9 0 0 1 2735.6,56.2" stroke-width="2.6"/></g>
<g fill="none" stroke="#fff" stroke-width="2.6" stroke-linecap="butt"><path d="M2913.3,50.2 A19.4,19.4 0 0 1 2949.2,42.6"/><path d="M2951.9,55.0 A19.4,19.4 0 0 1 2916.0,62.6"/></g><path d="M2952.9,38.4 V46 L2945,45.6 Z" fill="#fff"/><path d="M2912.3,66.8 V59 L2920.2,59.4 Z" fill="#fff"/>
<g fill="none" stroke="#fff" stroke-width="3.2" stroke-linecap="butt" stroke-linejoin="miter"><path d="M2982.8,46.8 V31.8 H2997.8 M2982.8,31.8 L2996.4,45.4"/><path d="M3009.4,31.8 H3024.4 V46.8 M3024.4,31.8 L3010.8,45.4"/><path d="M2982.8,58.099999999999994 V73.1 H2997.8 M2982.8,73.1 L2996.4,59.49999999999999"/><path d="M3009.4,73.1 H3024.4 V58.099999999999994 M3024.4,73.1 L3010.8,59.49999999999999"/></g>
<path d="M532.2,40 L547,54.8 M547,40 L532.2,54.8" fill="none" stroke="#4a9be6" stroke-width="2.3" stroke-linecap="round"/>
<line x1="357" y1="533.7" x2="936" y2="533.7" stroke="#4775ab" stroke-width="2" stroke-dasharray="14.4 6.4"/>
<polyline points="403.6,226.7 408.8,231.2 415.7,223.4" fill="none" stroke="#4a90d9" stroke-width="2.4" stroke-linecap="round" stroke-linejoin="round"/>
<polyline points="574.6,226.7 579.8,231.2 586.7,223.4" fill="none" stroke="#4a90d9" stroke-width="2.4" stroke-linecap="round" stroke-linejoin="round"/>
<polyline points="756.6,303.1 761.8,307.6 768.7,299.8" fill="none" stroke="#4a90d9" stroke-width="2.4" stroke-linecap="round" stroke-linejoin="round"/>
</svg>
<!--ICONS-->
</body></html>
